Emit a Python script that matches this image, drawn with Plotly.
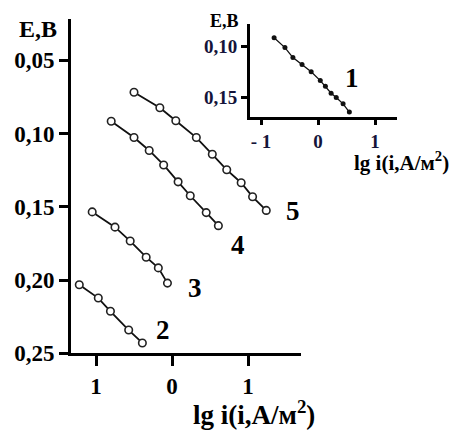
import plotly.graph_objects as go

W, H = 462, 444

# ---- data ----
c2_x = [-1.22, -0.97, -0.81, -0.57, -0.39]
c2_y = [0.2032, 0.2123, 0.2213, 0.2341, 0.2429]

c3_x = [-1.05, -0.75, -0.55, -0.34, -0.18, -0.06]
c3_y = [0.1535, 0.1639, 0.1734, 0.1844, 0.1917, 0.2021]

c4_x = [-0.80, -0.50, -0.30, -0.11, 0.08, 0.24, 0.45, 0.61]
c4_y = [0.0917, 0.1028, 0.1116, 0.1215, 0.1330, 0.1425, 0.1540, 0.1629]

c5_x = [-0.50, -0.16, 0.05, 0.32, 0.53, 0.72, 0.91, 1.06, 1.24]
c5_y = [0.0719, 0.0825, 0.0913, 0.1028, 0.1142, 0.1248, 0.1336, 0.1432, 0.1525]

c1_x = [-0.77, -0.58, -0.44, -0.28, -0.12, 0.04, 0.13, 0.23, 0.32, 0.44, 0.55]
c1_y = [0.0913, 0.1010, 0.1109, 0.1178, 0.1250, 0.1337, 0.1394, 0.1462, 0.1505, 0.1567, 0.1649]

main_yticks = [0.05, 0.10, 0.15, 0.20, 0.25]
main_yticktext = ["0,05", "0,10", "0,15", "0,20", "0,25"]
main_xticks = [-1, 0, 1]
main_xticktext = ["1", "0", "1"]

inset_yticks = [0.10, 0.15]
inset_yticktext = ["0,10", "0,15"]
inset_xticks = [-1, 0, 1]
inset_xticktext = ["- 1", "0", "1"]

curve_labels = ["2", "3", "4", "5"]
label_pos = [(-0.12, 0.234), (0.30, 0.2056), (0.87, 0.1758), (1.59, 0.1526)]

FONT = "Liberation Serif"


def b(s):
    return "<b>" + s + "</b>"


fig = go.Figure()

for xs, ys in [(c2_x, c2_y), (c3_x, c3_y), (c4_x, c4_y), (c5_x, c5_y)]:
    fig.add_trace(go.Scatter(
        x=xs, y=ys, mode="lines+markers", xaxis="x", yaxis="y",
        line=dict(color="#111", width=1.8),
        marker=dict(symbol="circle", size=7.5, color="white",
                    line=dict(color="#222", width=1.6)),
        showlegend=False, hoverinfo="skip"))

fig.add_trace(go.Scatter(
    x=c1_x, y=c1_y, mode="lines+markers", xaxis="x2", yaxis="y2",
    line=dict(color="#111", width=1.3),
    marker=dict(symbol="circle", size=5, color="#111"),
    showlegend=False, hoverinfo="skip"))


def px2fx(px):
    return px / W


def py2fy(py):
    return 1 - py / H


axis_common = dict(showgrid=False, zeroline=False, showline=True,
                   linecolor="black", ticks="outside", tickcolor="black")

fig.update_layout(
    width=W, height=H, autosize=False,
    margin=dict(l=0, r=0, t=0, b=0),
    paper_bgcolor="white", plot_bgcolor="white",
    xaxis=dict(**axis_common, domain=[px2fx(71), px2fx(301)],
               range=[-1.329, 1.697], linewidth=3, tickwidth=3, ticklen=10,
               tickvals=main_xticks, ticktext=[b(t) for t in main_xticktext],
               tickfont=dict(family=FONT, size=23, color="black"),
               anchor="y"),
    yaxis=dict(**axis_common, domain=[py2fy(364), py2fy(20)],
               range=[0.25, 0.0222], linewidth=3, tickwidth=3, ticklen=9,
               tickvals=main_yticks, ticktext=[b(t) for t in main_yticktext],
               tickfont=dict(family=FONT, size=23, color="black"),
               anchor="x"),
    xaxis2=dict(**axis_common, domain=[px2fx(250), px2fx(397)],
                range=[-1.193, 1.386], linewidth=3, tickwidth=3, ticklen=5,
                tickvals=inset_xticks, ticktext=[b(t) for t in inset_xticktext],
                tickfont=dict(family=FONT, size=19, color="#14143a"),
                anchor="y2"),
    yaxis2=dict(**axis_common, domain=[py2fy(121), py2fy(25)],
                range=[0.1702, 0.0779], linewidth=3, tickwidth=3, ticklen=6,
                tickvals=inset_yticks, ticktext=[b(t) for t in inset_yticktext],
                tickfont=dict(family=FONT, size=19, color="#14143a"),
                anchor="x2"),
)

for txt, (lx, ly) in zip(curve_labels, label_pos):
    fig.add_annotation(x=lx, y=ly, xref="x", yref="y", text=b(txt), showarrow=False,
                       xanchor="center", yanchor="middle",
                       font=dict(family=FONT, size=27, color="black"))

fig.add_annotation(x=0.60, y=0.131, xref="x2", yref="y2", text=b("1"), showarrow=False,
                   xanchor="center", yanchor="middle",
                   font=dict(family=FONT, size=27, color="black"))

# axis titles
titles = [
    ("E,B", 38, 30, 24),
    ("lg i(i,A/м<sup>2</sup>)", 254, 425, 27),
    ("E,B", 224, 22, 18),
    ("lg i(i,A/м<sup>2</sup>)", 401, 166, 21),
]
for txt, tx, ty, fs in titles:
    fig.add_annotation(x=px2fx(tx), y=py2fy(ty), xref="paper", yref="paper",
                       text=b(txt), showarrow=False, xanchor="center", yanchor="middle",
                       font=dict(family=FONT, size=fs, color="black"))

fig.write_html("out.html", config={"displayModeBar": False},
               post_script="document.body.style.margin='0px';")
